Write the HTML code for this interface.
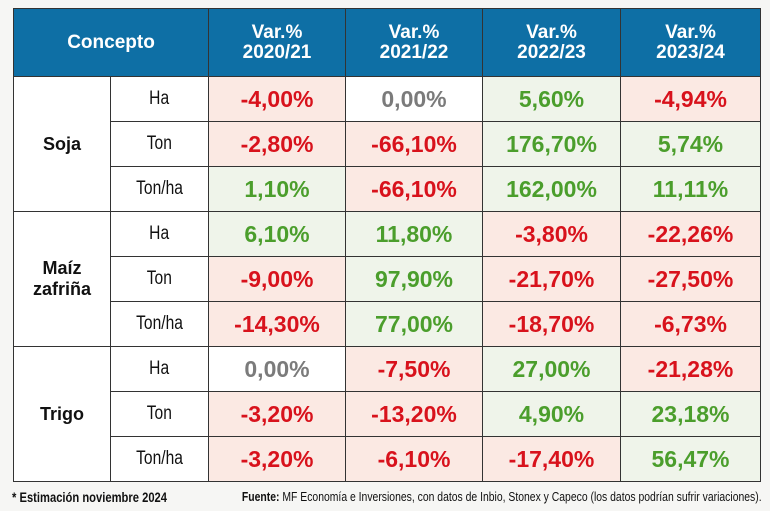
<!DOCTYPE html>
<html><head><meta charset="utf-8"><style>
body{margin:0;width:770px;height:511px;background:#f6f6f4;font-family:"Liberation Sans",sans-serif;position:relative;overflow:hidden}
table{position:absolute;left:13px;top:8px;border-collapse:collapse;table-layout:fixed}
td,th{border:1.5px solid #333;text-align:center;padding:0}
th{background:#0e6fa5;color:#fff;font-weight:bold;font-size:19px;line-height:20px;height:67px}
td{height:44px;font-size:23px;font-weight:bold}
td.c{font-weight:bold;font-size:18px;background:#fff;color:#111}
td.s{font-weight:normal;font-size:19px;background:#fff;color:#111}
td.s span{display:inline-block;transform:scaleX(.82)}
.r{background:#fbe9e3;color:#d8121c}
.g{background:#eff4ea;color:#4b9e2c}
.z{background:#fff;color:#7b7b7b}
.f{position:absolute;top:489px;font-size:13px;color:#111;white-space:nowrap;transform:scaleX(.8)}
</style></head><body>
<table>
<colgroup><col style="width:97px"><col style="width:98px"><col style="width:137px"><col style="width:137px"><col style="width:138px"><col style="width:140px"></colgroup>
<tr><th colspan="2">Concepto</th><th>Var.%<br>2020/21</th><th>Var.%<br>2021/22</th><th>Var.%<br>2022/23</th><th>Var.%<br>2023/24</th></tr>
<tr><td class="c" rowspan="3">Soja</td><td class="s"><span>Ha</span></td><td class="r">-4,00%</td><td class="z">0,00%</td><td class="g">5,60%</td><td class="r">-4,94%</td></tr>
<tr><td class="s"><span>Ton</span></td><td class="r">-2,80%</td><td class="r">-66,10%</td><td class="g">176,70%</td><td class="g">5,74%</td></tr>
<tr><td class="s"><span>Ton/ha</span></td><td class="g">1,10%</td><td class="r">-66,10%</td><td class="g">162,00%</td><td class="g">11,11%</td></tr>
<tr><td class="c" rowspan="3">Maíz<br>zafriña</td><td class="s"><span>Ha</span></td><td class="g">6,10%</td><td class="g">11,80%</td><td class="r">-3,80%</td><td class="r">-22,26%</td></tr>
<tr><td class="s"><span>Ton</span></td><td class="r">-9,00%</td><td class="g">97,90%</td><td class="r">-21,70%</td><td class="r">-27,50%</td></tr>
<tr><td class="s"><span>Ton/ha</span></td><td class="r">-14,30%</td><td class="g">77,00%</td><td class="r">-18,70%</td><td class="r">-6,73%</td></tr>
<tr><td class="c" rowspan="3">Trigo</td><td class="s"><span>Ha</span></td><td class="z">0,00%</td><td class="r">-7,50%</td><td class="g">27,00%</td><td class="r">-21,28%</td></tr>
<tr><td class="s"><span>Ton</span></td><td class="r">-3,20%</td><td class="r">-13,20%</td><td class="g">4,90%</td><td class="g">23,18%</td></tr>
<tr><td class="s"><span>Ton/ha</span></td><td class="r">-3,20%</td><td class="r">-6,10%</td><td class="r">-17,40%</td><td class="g">56,47%</td></tr>
</table>
<div class="f" style="left:12px;font-weight:bold;font-size:14px;transform-origin:left">* Estimación noviembre 2024</div>
<div class="f" style="right:8px;transform-origin:right"><b>Fuente:</b> MF Economía e Inversiones, con datos de Inbio, Stonex y Capeco (los datos podrían sufrir variaciones).</div>
</body></html>
